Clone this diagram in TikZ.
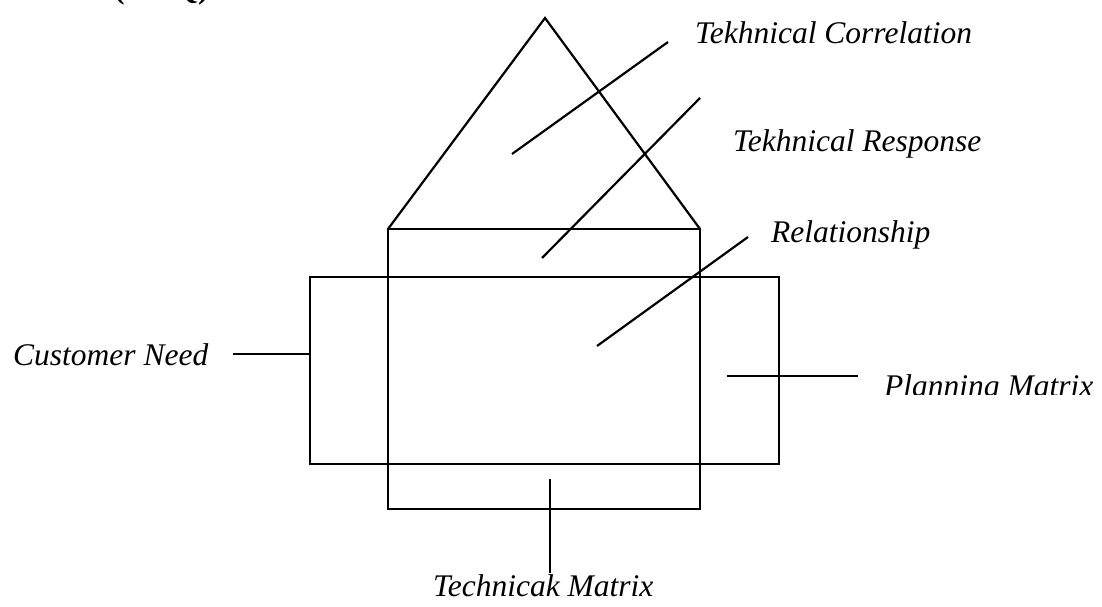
\documentclass[tikz,border=0pt]{standalone}
\usepackage{fontspec}
\setmainfont{Liberation Serif}
\begin{document}
\begin{tikzpicture}[x=1pt,y=-1pt,
  outline/.style={draw=black,line width=2.2pt},
  leader/.style={draw=black,line width=2.2pt},
  lbl/.style={anchor=base west,inner sep=0pt,font=\fontsize{31.5}{36}\selectfont\itshape},
  hoq/.style={anchor=base west,inner sep=0pt,font=\fontsize{31.5}{36}\selectfont\bfseries}]
\useasboundingbox (0,0) rectangle (1102,607);
% shapes
\draw[outline] (388,229) -- (545,18) -- (700,229);
\draw[outline] (310,277) rectangle (779,464);
\draw[outline] (388,229) rectangle (700,509);
% labels
\node[hoq] (hoq) at (114,-1) {(HOQ).};
\node[lbl] (corr) at (695,44) {Tekhnical Correlation};
\node[lbl] (resp) at (733,151) {Tekhnical Response};
\node[lbl] (rel) at (771,242) {Relationship};
\node[lbl] (cust) at (13,365) {Customer Need};
\begin{scope}
\clip (870,360) rectangle (1102,394);
\node[lbl] (plan) at (884,396) {Planning Matrix};
\end{scope}
\node[lbl] (tech) at (433,596) {Technicak Matrix};
% leader end points
\coordinate (c1) at (512,154);
\coordinate (c1e) at (668,42);
\coordinate (r1) at (542,258);
\coordinate (r1e) at (700,98);
\coordinate (l1) at (597,346);
\coordinate (l1e) at (748,237);
\coordinate (n1) at (233,354);
\coordinate (n1e) at (310,354);
\coordinate (p1) at (727,376);
\coordinate (p1e) at (858,376);
\coordinate (t1) at (550,479);
\coordinate (t1e) at (550,573);
\draw[leader] (c1) -- (c1e);
\draw[leader] (r1) -- (r1e);
\draw[leader] (l1) -- (l1e);
\draw[leader] (n1) -- (n1e);
\draw[leader] (p1) -- (p1e);
\draw[leader] (t1) -- (t1e);
\end{tikzpicture}
\end{document}
